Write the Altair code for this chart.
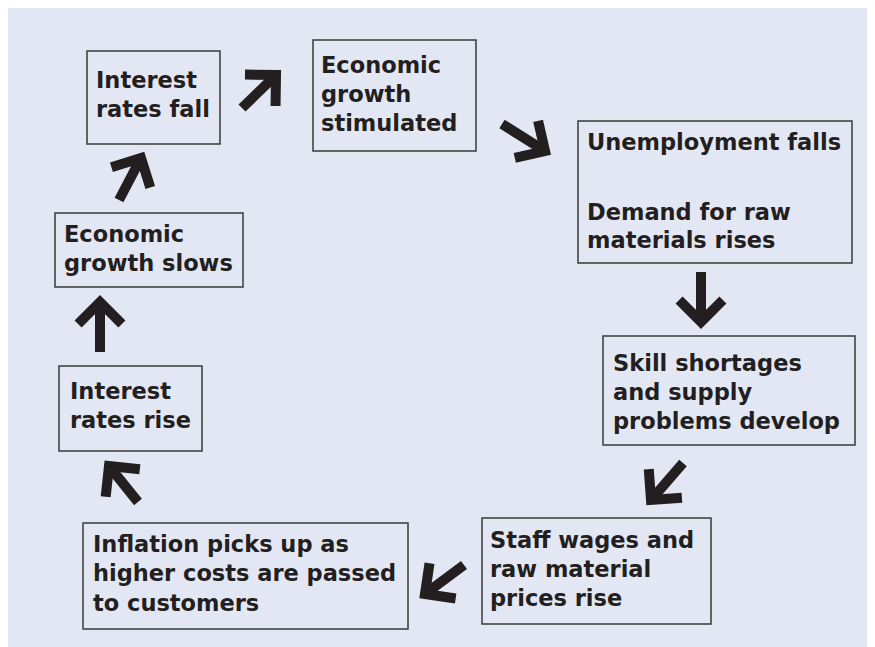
import math
import altair as alt
import pandas as pd

# ---- diagram data (reference pixel coordinates) ----
box_x0 = [87, 313, 578, 603, 482, 83, 59, 55]
box_x1 = [220, 476, 852, 855, 711, 408, 202, 243]
box_y0 = [51, 40, 121, 336, 518, 523, 366, 213]
box_y1 = [144, 151, 263, 445, 624, 629, 451, 287]

line_text = [
    "Interest", "rates fall",
    "Economic", "growth", "stimulated",
    "Unemployment falls", "Demand for raw", "materials rises",
    "Skill shortages", "and supply", "problems develop",
    "Staff wages and", "raw material", "prices rise",
    "Inflation picks up as", "higher costs are passed", "to customers",
    "Interest", "rates rise",
    "Economic", "growth slows",
]
line_x = [96, 96,
          321, 321, 321,
          587, 587, 587,
          613, 613, 613,
          490, 490, 490,
          93, 93, 93,
          70, 70,
          64, 64]
line_y = [88, 117,
          73, 102, 131,
          150, 220, 248,
          371, 400, 429,
          548, 577, 606,
          552, 581, 611,
          399, 428,
          242, 271]

arrow_tail_x = [242, 502, 701, 683, 464, 138, 100, 119]
arrow_tail_y = [108, 124, 272, 463, 565, 502, 352, 200]
arrow_tip_x = [276, 545, 701, 651, 425, 109, 100, 141]
arrow_tip_y = [75, 151, 322, 500, 594, 466, 302, 158]
head_len = 31

# ---- build tables ----
boxes = pd.DataFrame({"x0": box_x0, "x1": box_x1, "y0": box_y0, "y1": box_y1})
lines = pd.DataFrame({"t": line_text, "x": line_x, "y": line_y})

rows = []
for i in range(len(arrow_tail_x)):
    tx, ty = arrow_tail_x[i], arrow_tail_y[i]
    px, py = arrow_tip_x[i], arrow_tip_y[i]
    dx, dy = px - tx, py - ty
    n = math.hypot(dx, dy)
    bx, by = -dx / n, -dy / n
    arms = []
    for s in (1, -1):
        a = s * math.pi / 4
        rx = bx * math.cos(a) - by * math.sin(a)
        ry = bx * math.sin(a) + by * math.cos(a)
        arms.append((px + head_len * rx, py + head_len * ry))
    rows += [
        {"seg": f"s{i}", "o": 0, "x": tx, "y": ty},
        {"seg": f"s{i}", "o": 1, "x": px, "y": py},
        {"seg": f"h{i}", "o": 0, "x": arms[0][0], "y": arms[0][1]},
        {"seg": f"h{i}", "o": 1, "x": px, "y": py},
        {"seg": f"h{i}", "o": 2, "x": arms[1][0], "y": arms[1][1]},
    ]
arrows = pd.DataFrame(rows)

W, H = 859, 639
xs = alt.Scale(domain=[8, 8 + W], nice=False, zero=False, padding=0)
ys = alt.Scale(domain=[8, 8 + H], nice=False, zero=False, padding=0, reverse=True)

rect = alt.Chart(boxes).mark_rect(
    fill="#e3e7f4", fillOpacity=0, stroke="#3a3a3a", strokeWidth=1.5
).encode(
    x=alt.X("x0:Q", scale=xs, axis=None),
    x2="x1:Q",
    y=alt.Y("y0:Q", scale=ys, axis=None),
    y2="y1:Q",
)

text = alt.Chart(lines).mark_text(
    align="left", baseline="alphabetic", font="DejaVu Sans",
    fontWeight="bold", fontSize=22.5, color="#231f20"
).encode(
    x=alt.X("x:Q", scale=xs, axis=None),
    y=alt.Y("y:Q", scale=ys, axis=None),
    text="t:N",
)

arr = alt.Chart(arrows).mark_line(
    color="#231f20", strokeWidth=10, strokeCap="butt", strokeJoin="miter"
).encode(
    x=alt.X("x:Q", scale=xs, axis=None),
    y=alt.Y("y:Q", scale=ys, axis=None),
    detail="seg:N",
    order="o:Q",
)

chart = alt.layer(rect, arr, text).properties(
    width=W, height=H, padding=0, background="#e3e7f4"
).configure_view(stroke=None)

chart.save("out.html", embed_options={"renderer": "svg", "actions": False})
